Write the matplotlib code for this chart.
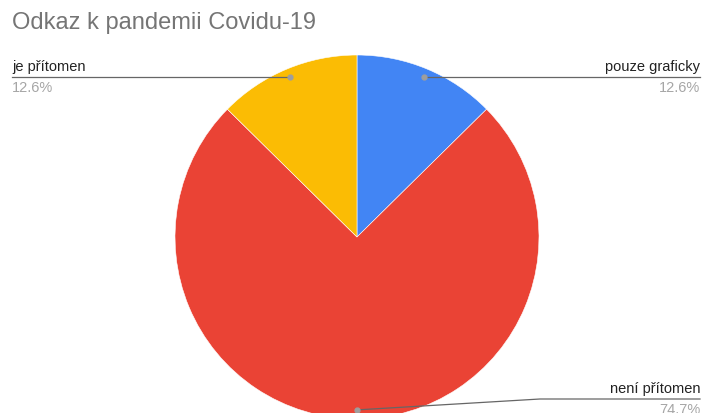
import numpy as np
import matplotlib
matplotlib.use("Agg")
import matplotlib.pyplot as plt

plt.rcParams['font.family'] = ['Liberation Sans', 'DejaVu Sans']

labels = ["pouze graficky", "není přítomen", "je přítomen"]
shares = [12.6, 74.7, 12.6]
colors = ["#4285F4", "#EA4335", "#FBBC04"]
title = "Odkaz k pandemii Covidu-19"

W, H = 702, 414
fig = plt.figure(figsize=(W / 100, H / 100), dpi=100)
ax = fig.add_axes([0, 0, 1, 1])

cx, cy, r = 357, H - 238, 182
wedges, _ = ax.pie(shares, colors=colors, startangle=90, counterclock=False,
                   center=(cx, cy), radius=r,
                   wedgeprops=dict(linewidth=0.4, edgecolor="white"))
ax.set_xlim(0, W)
ax.set_ylim(0, H)
ax.set_aspect("equal")
ax.axis("off")

line_c = "#9e9e9e"
lab_kw = dict(fontsize=10.5, color="#222222")
pct_kw = dict(fontsize=10.5, color="#a6a6a6")
for w, lab, val in zip(wedges, labels, shares):
    mid = np.deg2rad((w.theta1 + w.theta2) / 2)
    dx, dy = cx + 0.95 * r * np.cos(mid), cy + 0.95 * r * np.sin(mid)
    ax.plot(dx, dy, "o", ms=3.5, color=line_c, zorder=5, clip_on=False)
    if dy < 20:
        # bottom label: bends up then runs right
        ly = H - 400
        ax.plot([dx, 540, 700], [dy, ly, ly], color="#666666", lw=0.9, zorder=4)
        ax.text(700, ly + 4, lab, ha="right", va="bottom", **lab_kw)
        ax.text(700, ly - 3, f"{val}%", ha="right", va="top", **pct_kw)
    elif dx > cx:
        ly = dy
        ax.plot([dx, 700], [ly, ly], color="#666666", lw=0.9, zorder=4)
        ax.text(700, ly + 4, lab, ha="right", va="bottom", **lab_kw)
        ax.text(700, ly - 3, f"{val}%", ha="right", va="top", **pct_kw)
    else:
        ly = dy
        ax.plot([12, dx], [ly, ly], color="#666666", lw=0.9, zorder=4)
        ax.text(12, ly + 4, lab, ha="left", va="bottom", **lab_kw)
        ax.text(12, ly - 3, f"{val}%", ha="left", va="top", **pct_kw)

ax.text(12, H - 12, title, ha="left", va="top", fontsize=17, color="#757575")

fig.savefig("out.png", dpi=100)
